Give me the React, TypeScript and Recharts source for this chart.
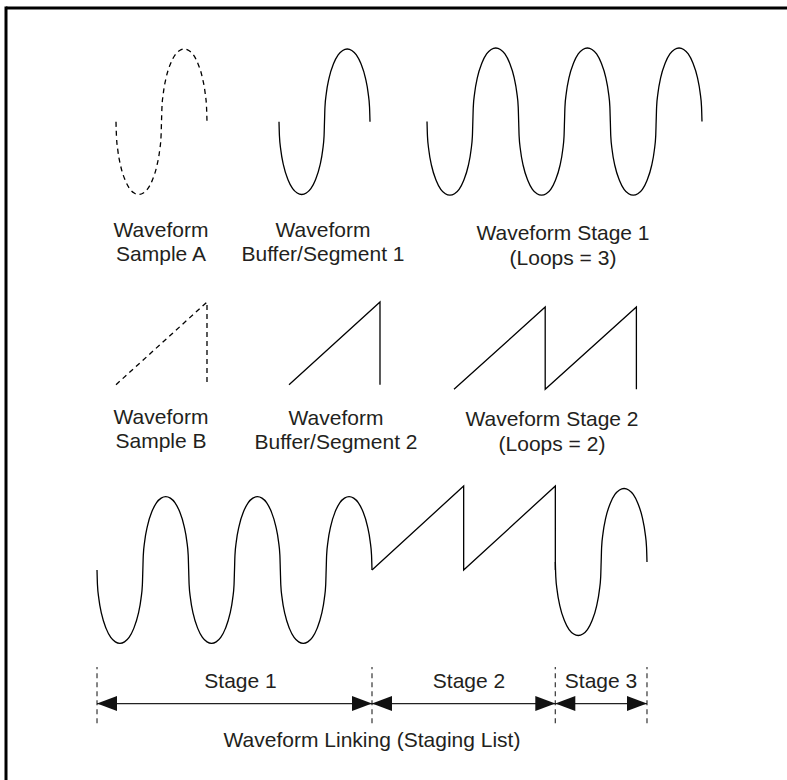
import React from 'react';
import { LineChart, Line, XAxis, YAxis, ComposedChart, Scatter, ReferenceLine } from 'recharts';

// One period of the sine sample (phase, value): starts at zero, goes down first
const SINE_T = [0, 0.005, 0.02, 0.05, 0.1, 0.15, 0.2, 0.25, 0.3, 0.35, 0.4, 0.45, 0.48, 0.495, 0.5, 0.505, 0.52, 0.55, 0.6, 0.65, 0.7, 0.75, 0.8, 0.85, 0.9, 0.95, 0.98, 0.995, 1];
const SINE_V = [0, -0.2, -0.39, -0.6, -0.8, -0.92, -0.98, -1, -0.98, -0.92, -0.8, -0.6, -0.39, -0.2, 0, 0.2, 0.39, 0.6, 0.8, 0.92, 0.98, 1, 0.98, 0.92, 0.8, 0.6, 0.39, 0.2, 0];
// One period of the sawtooth sample
const SAW_T = [0, 1, 1];
const SAW_V = [-1, 1, -1];
// Loops per stage
const STAGE1_LOOPS = 3;
const STAGE2_LOOPS = 2;
const STAGE3_LOOPS = 1;
const STAGE_LABELS = ['Stage 1', 'Stage 2', 'Stage 3'];
const ARROW_Y = 0.35;

type Pt = { x: number; y: number };

function loop(ts: number[], vs: number[], n: number, offset = 0): Pt[] {
  const out: Pt[] = [];
  for (let i = 0; i < n; i++) {
    ts.forEach((t, j) => {
      if (i > 0 && j === 0) return;
      out.push({ x: offset + i + t, y: vs[j] });
    });
  }
  return out;
}

const INK = '#000';
const TEXT = '#231f20';
const PAD = 4;

type Box = { x0: number; x1: number; yTop: number; yBot: number };

const L: Record<string, Box> = {
  sampleA: { x0: 115.7, x1: 206.7, yTop: 49, yBot: 194.5 },
  seg1: { x0: 279.3, x1: 370.3, yTop: 49, yBot: 194.5 },
  stage1: { x0: 426.7, x1: 701.7, yTop: 48.3, yBot: 195.5 },
  sampleB: { x0: 115.7, x1: 206.7, yTop: 302.3, yBot: 385 },
  seg2: { x0: 289.3, x1: 380.3, yTop: 302.3, yBot: 385 },
  stage2: { x0: 454.3, x1: 636.7, yTop: 306.7, yBot: 389 },
  link: { x0: 96.7, x1: 646.7, yTop: 486, yBot: 643.3 },
  dims: { x0: 96.7, x1: 646.7, yTop: 666.7, yBot: 723 },
};

function boxStyle(b: Box): React.CSSProperties {
  return { position: 'absolute', left: b.x0 - PAD, top: b.yTop - PAD };
}
function boxW(b: Box) { return b.x1 - b.x0 + 2 * PAD; }
function boxH(b: Box) { return b.yBot - b.yTop + 2 * PAD; }
const M = { top: PAD, right: PAD, bottom: PAD, left: PAD };

function Wave({ box, data, loops, curve, dashed }: { box: Box; data: Pt[]; loops: number; curve: 'monotone' | 'linear'; dashed?: boolean }) {
  return (
    <div style={boxStyle(box)}>
      <LineChart width={boxW(box)} height={boxH(box)} data={data} margin={M}>
        <XAxis type="number" dataKey="x" domain={[0, loops]} hide />
        <YAxis type="number" domain={[-1, 1]} hide />
        <Line
          dataKey="y"
          type={curve}
          stroke={INK}
          strokeWidth={1.3}
          strokeDasharray={dashed ? '5 4' : undefined}
          dot={false}
          activeDot={false}
          isAnimationActive={false}
        />
      </LineChart>
    </div>
  );
}

const sineOne = loop(SINE_T, SINE_V, 1);
const sawOne = loop(SAW_T, SAW_V, 1);
const sineStage1 = loop(SINE_T, SINE_V, STAGE1_LOOPS);
const sawStage2 = loop(SAW_T, SAW_V, STAGE2_LOOPS);

const B1 = STAGE1_LOOPS;
const B2 = STAGE1_LOOPS + STAGE2_LOOPS;
const B3 = STAGE1_LOOPS + STAGE2_LOOPS + STAGE3_LOOPS;
const linkStage1 = loop(SINE_T, SINE_V, STAGE1_LOOPS, 0);
const linkStage2 = loop(SAW_T, SAW_V, STAGE2_LOOPS, B1);
const linkStage3 = loop(SINE_T, SINE_V, STAGE3_LOOPS, B2);
const BOUNDS = [0, B1, B2, B3];

const ARROWS = [
  { x: 0, y: ARROW_Y, dir: 'left' },
  { x: B1, y: ARROW_Y, dir: 'right' },
  { x: B1, y: ARROW_Y, dir: 'left' },
  { x: B2, y: ARROW_Y, dir: 'right' },
  { x: B2, y: ARROW_Y, dir: 'left' },
  { x: B3, y: ARROW_Y, dir: 'right' },
];

function ArrowHead(props: any) {
  const { cx, cy, payload } = props;
  if (cx == null || cy == null) return null;
  const len = 20;
  const half = 7.5;
  const s = payload.dir === 'left' ? 1 : -1;
  const pts = `${cx},${cy} ${cx + s * len},${cy - half} ${cx + s * len},${cy + half}`;
  return <polygon points={pts} fill="#111" stroke="none" />;
}

const LABELS: { x: number; y: number; t: string }[] = [
  { x: 161, y: 237, t: 'Waveform' },
  { x: 161, y: 261, t: 'Sample A' },
  { x: 323, y: 237, t: 'Waveform' },
  { x: 323, y: 261, t: 'Buffer/Segment 1' },
  { x: 563, y: 240, t: 'Waveform Stage 1' },
  { x: 563, y: 265, t: '(Loops = 3)' },
  { x: 161, y: 424, t: 'Waveform' },
  { x: 161, y: 448, t: 'Sample B' },
  { x: 336, y: 425, t: 'Waveform' },
  { x: 336, y: 449, t: 'Buffer/Segment 2' },
  { x: 552, y: 426, t: 'Waveform Stage 2' },
  { x: 552, y: 451, t: '(Loops = 2)' },
  { x: 240.5, y: 688, t: STAGE_LABELS[0] },
  { x: 469, y: 688, t: STAGE_LABELS[1] },
  { x: 601, y: 688, t: STAGE_LABELS[2] },
  { x: 372, y: 747, t: 'Waveform Linking (Staging List)' },
];

export default function App() {
  const lb = L.link;
  return (
    <div style={{ position: 'absolute', left: 0, top: 0, width: 787, height: 780, background: '#fff', overflow: 'hidden' }}>
      <Wave box={L.sampleA} data={sineOne} loops={1} curve="monotone" dashed />
      <Wave box={L.seg1} data={sineOne} loops={1} curve="monotone" />
      <Wave box={L.stage1} data={sineStage1} loops={STAGE1_LOOPS} curve="monotone" />
      <Wave box={L.sampleB} data={sawOne} loops={1} curve="linear" dashed />
      <Wave box={L.seg2} data={sawOne} loops={1} curve="linear" />
      <Wave box={L.stage2} data={sawStage2} loops={STAGE2_LOOPS} curve="linear" />

      <div style={boxStyle(lb)}>
        <LineChart width={boxW(lb)} height={boxH(lb)} margin={M}>
          <XAxis type="number" dataKey="x" domain={[0, B3]} hide />
          <YAxis yAxisId="s1" type="number" domain={[-1, 1.146]} hide />
          <YAxis yAxisId="s2" type="number" domain={[-2.745, 1]} hide />
          <YAxis yAxisId="s3" type="number" domain={[-1.106, 1.034]} hide />
          <Line yAxisId="s1" data={linkStage1} dataKey="y" type="monotone" stroke={INK} strokeWidth={1.3} dot={false} activeDot={false} isAnimationActive={false} />
          <Line yAxisId="s2" data={linkStage2} dataKey="y" type="linear" stroke={INK} strokeWidth={1.3} dot={false} activeDot={false} isAnimationActive={false} />
          <Line yAxisId="s3" data={linkStage3} dataKey="y" type="monotone" stroke={INK} strokeWidth={1.3} dot={false} activeDot={false} isAnimationActive={false} />
        </LineChart>
      </div>

      <div style={boxStyle(L.dims)}>
        <ComposedChart width={boxW(L.dims)} height={boxH(L.dims)} margin={M}>
          <XAxis type="number" dataKey="x" domain={[0, B3]} hide />
          <YAxis type="number" dataKey="y" domain={[0, 1]} hide />
          {BOUNDS.map((b) => (
            <ReferenceLine key={'b' + b} x={b} stroke="#444" strokeWidth={1.3} strokeDasharray="5 4" />
          ))}
          <ReferenceLine y={ARROW_Y} stroke="#222" strokeWidth={1.3} />
          <Scatter data={ARROWS} dataKey="y" shape={ArrowHead} isAnimationActive={false} />
        </ComposedChart>
      </div>

      <svg width={787} height={780} style={{ position: 'absolute', left: 0, top: 0, pointerEvents: 'none' }}>
        <line x1={6} y1={8} x2={787} y2={8} stroke="#000" strokeWidth={3} />
        <line x1={6} y1={6.5} x2={6} y2={780} stroke="#000" strokeWidth={3} />
        {LABELS.map((l, i) => (
          <text key={i} x={l.x} y={l.y} textAnchor="middle" fontFamily="'Liberation Sans', Arial, sans-serif" fontSize={21} fill={TEXT}>
            {l.t}
          </text>
        ))}
      </svg>
    </div>
  );
}
